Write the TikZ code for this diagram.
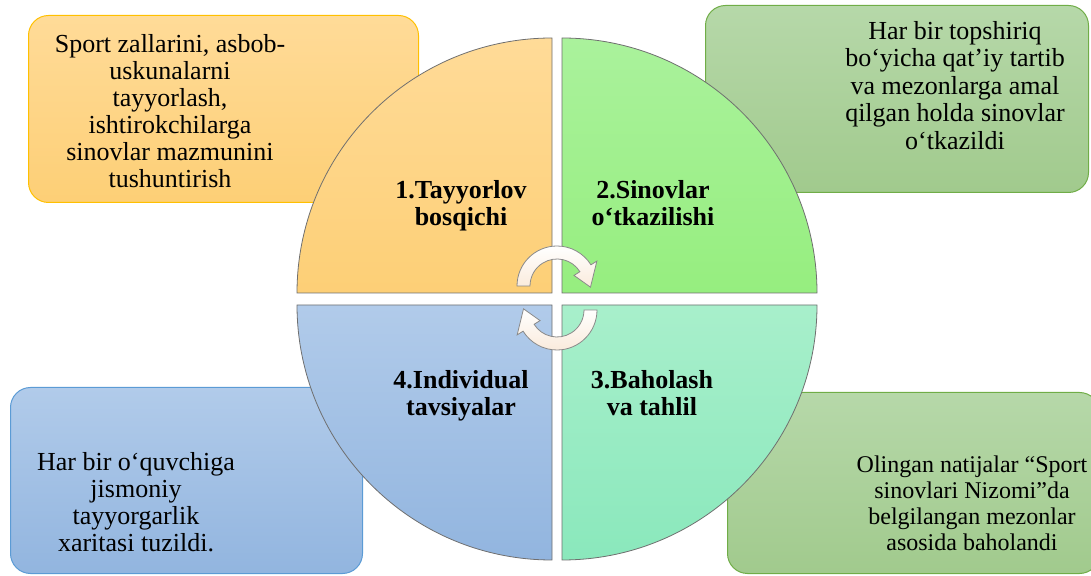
\documentclass[tikz,border=0pt]{standalone}
\usepackage{fontspec}
\setmainfont{Liberation Serif}
\usetikzlibrary{calc}
\definecolor{quadline}{HTML}{6F6F6F}
\definecolor{arrowline}{HTML}{8A8A8A}
\definecolor{arrowfill}{HTML}{FAEBDC}
\definecolor{orangeTop}{HTML}{FFDB98}
\definecolor{orangeBot}{HTML}{FDCF76}
\definecolor{orangeEdge}{HTML}{FFC000}
\definecolor{limeTop}{HTML}{AAF29C}
\definecolor{limeBot}{HTML}{96EE7F}
\definecolor{mintTop}{HTML}{A8EFCB}
\definecolor{mintBot}{HTML}{8AE8BC}
\definecolor{blueTop}{HTML}{B1CBEA}
\definecolor{blueBot}{HTML}{92B5DF}
\definecolor{blueEdge}{HTML}{5B9BD5}
\definecolor{sageTop}{HTML}{B6D8A9}
\definecolor{sageBot}{HTML}{A1CA8D}
\definecolor{sageEdge}{HTML}{70AD47}
\begin{document}
\begin{tikzpicture}[x=1pt,y=1pt,
  infobox/.style={rounded corners=20pt, line width=1pt, inner sep=0pt, anchor=south west},
  quad/.style={draw=quadline, line width=0.8pt},
  body/.style={font=\fontsize{26}{27}\selectfont, align=center, inner sep=0pt, anchor=north},
  stage/.style={font=\bfseries\fontsize{26}{27}\selectfont, align=center, inner sep=0pt, anchor=north},
  cyc/.style={draw=arrowline, line width=0.8pt, top color=white, bottom color=arrowfill}
]
\useasboundingbox (0,0) rectangle (1091,575);
\clip (0,0) rectangle (1091,575);

% side notes behind the circle
\node[infobox, draw=orangeEdge, top color=orangeTop, bottom color=orangeBot,
      minimum width=390pt, minimum height=187pt] (prepbox) at (28,372) {};
\node[infobox, draw=sageEdge, top color=sageTop, bottom color=sageBot,
      minimum width=383pt, minimum height=187pt] (testbox) at (705,382) {};
\node[infobox, draw=blueEdge, top color=blueTop, bottom color=blueBot,
      minimum width=352pt, minimum height=186pt] (mapbox) at (10,1) {};
\node[infobox, draw=sageEdge, top color=sageTop, bottom color=sageBot,
      minimum width=372pt, minimum height=181pt] (evalbox) at (727,1) {};

\node[body] (preptext) at (170,541)
  {Sport zallarini, asbob-\\uskunalarni\\tayyorlash,\\ishtirokchilarga\\sinovlar mazmunini\\tushuntirish};
\node[body, font=\fontsize{26}{27.5}\selectfont] (testtext) at (955,554)
  {Har bir topshiriq\\bo‘yicha qat’iy tartib\\va mezonlarga amal\\qilgan holda sinovlar\\o‘tkazildi};
\node[body] (maptext) at (136,123)
  {Har bir o‘quvchiga\\jismoniy\\tayyorgarlik\\xaritasi tuzildi.};
\node[body, font=\fontsize{24}{26}\selectfont] (evaltext) at (972,119)
  {Olingan natijalar “Sport\\sinovlari Nizomi”da\\belgilangan mezonlar\\asosida baholandi};

% four quarter discs
\path[quad, top color=orangeTop, bottom color=orangeBot]
  (552,282) -- (552,537) arc (90:180:255) -- cycle;
\path[quad, top color=limeTop, bottom color=limeBot]
  (562,282) -- (817,282) arc (0:90:255) -- cycle;
\path[quad, top color=blueTop, bottom color=blueBot]
  (552,270) -- (297,270) arc (180:270:255) -- cycle;
\path[quad, top color=mintTop, bottom color=mintBot]
  (562,270) -- (562,15) arc (270:360:255) -- cycle;

% circular arrows in the middle
\coordinate (upc) at (557,289);
\coordinate (loc) at (557,265);
\path[cyc] ($(upc)+(180:40)$) arc (180:32:40) -- ($(upc)+(32:47)$)
  -- ($(upc)+(-2:33.5)$) -- ($(upc)+(32:20)$) -- ($(upc)+(32:27)$)
  arc (32:180:27) -- cycle;
\path[cyc] ($(loc)+(0:40)$) arc (0:-148:40) -- ($(loc)+(-148:47)$)
  -- ($(loc)+(178:33.5)$) -- ($(loc)+(-148:20)$) -- ($(loc)+(-148:27)$)
  arc (-148:0:27) -- cycle;

% stage titles
\node[stage] (s1) at (461,395) {1.Tayyorlov\\bosqichi};
\node[stage] (s2) at (653,395) {2.Sinovlar\\o‘tkazilishi};
\node[stage] (s3) at (652,205) {3.Baholash\\va tahlil};
\node[stage] (s4) at (461,205) {4.Individual\\tavsiyalar};
\end{tikzpicture}
\end{document}
